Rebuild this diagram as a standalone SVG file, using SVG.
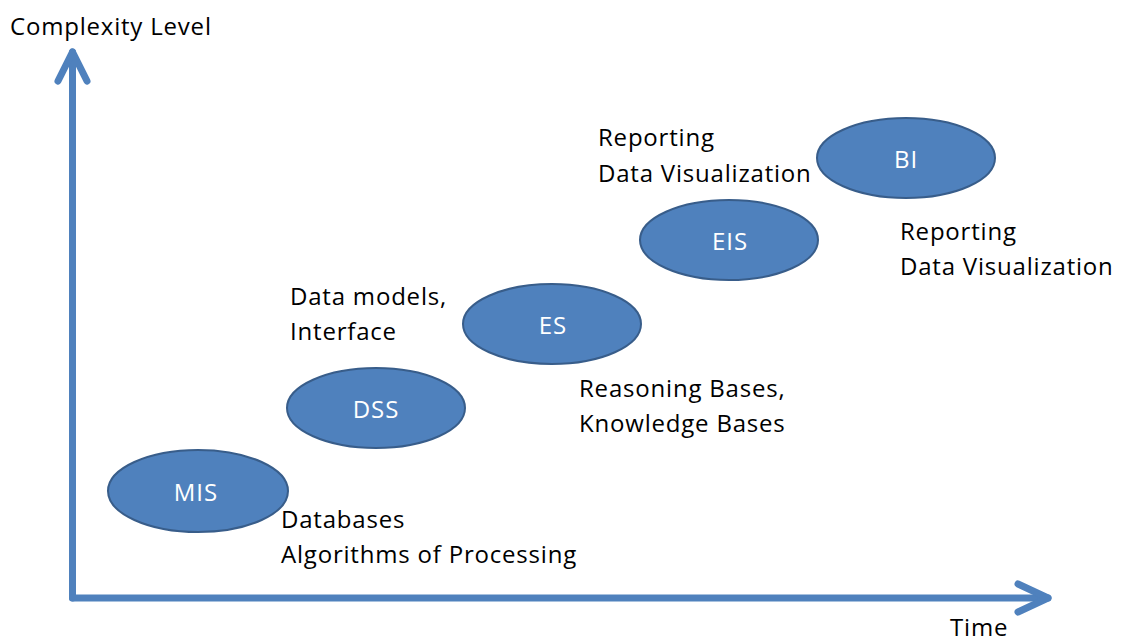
<svg xmlns="http://www.w3.org/2000/svg" width="1122" height="641" viewBox="0 0 1122 641">
  <style>
    .lbl { font-family: "Open Sans", "Liberation Sans", sans-serif; font-size: 24px; letter-spacing: 0.8px; fill: #000; }
    .node ellipse { fill: #4F81BD; stroke: #385D8A; stroke-width: 2; }
    .node text { font-family: "Open Sans", "Liberation Sans", sans-serif; font-size: 24px; letter-spacing: 1px; fill: #fff; text-anchor: middle; dominant-baseline: central; }
    .axis { stroke: #4F81BD; stroke-width: 7; fill: none; stroke-linecap: round; stroke-linejoin: round; }
  </style>
  <rect width="1122" height="641" fill="#fff"/>

  <g id="connectors">
    <!-- vertical axis: complexity -->
    <path class="axis" d="M72.5 598 V52"/>
    <path class="axis" d="M58 81 L72.5 52 L87 81"/>
    <!-- horizontal axis: time -->
    <path class="axis" d="M72.5 598 H1048"/>
    <path class="axis" d="M1018 584 L1048 598 L1018 612"/>
  </g>

  <text class="lbl" x="10" y="35">Complexity Level</text>
  <text class="lbl" x="950" y="636">Time</text>

  <g id="mis" class="node">
    <ellipse cx="198" cy="491" rx="90" ry="41"/>
    <text x="196" y="491">MIS</text>
  </g>
  <g id="dss" class="node">
    <ellipse cx="376" cy="408" rx="89" ry="40"/>
    <text x="376" y="408">DSS</text>
  </g>
  <g id="es" class="node">
    <ellipse cx="552" cy="324" rx="89" ry="40"/>
    <text x="553" y="324">ES</text>
  </g>
  <g id="eis" class="node">
    <ellipse cx="729" cy="240" rx="89" ry="40"/>
    <text x="730" y="240">EIS</text>
  </g>
  <g id="bi" class="node">
    <ellipse cx="906" cy="158" rx="89" ry="40"/>
    <text x="906" y="158">BI</text>
  </g>

  <g id="notes">
    <text class="lbl" x="281" y="528">Databases</text>
    <text class="lbl" x="281" y="563">Algorithms of Processing</text>
    <text class="lbl" x="290" y="305">Data models,</text>
    <text class="lbl" x="290" y="340">Interface</text>
    <text class="lbl" x="579" y="397">Reasoning Bases,</text>
    <text class="lbl" x="579" y="432">Knowledge Bases</text>
    <text class="lbl" x="598" y="146">Reporting</text>
    <text class="lbl" x="598" y="182">Data Visualization</text>
    <text class="lbl" x="900" y="240">Reporting</text>
    <text class="lbl" x="900" y="275">Data Visualization</text>
  </g>
</svg>
